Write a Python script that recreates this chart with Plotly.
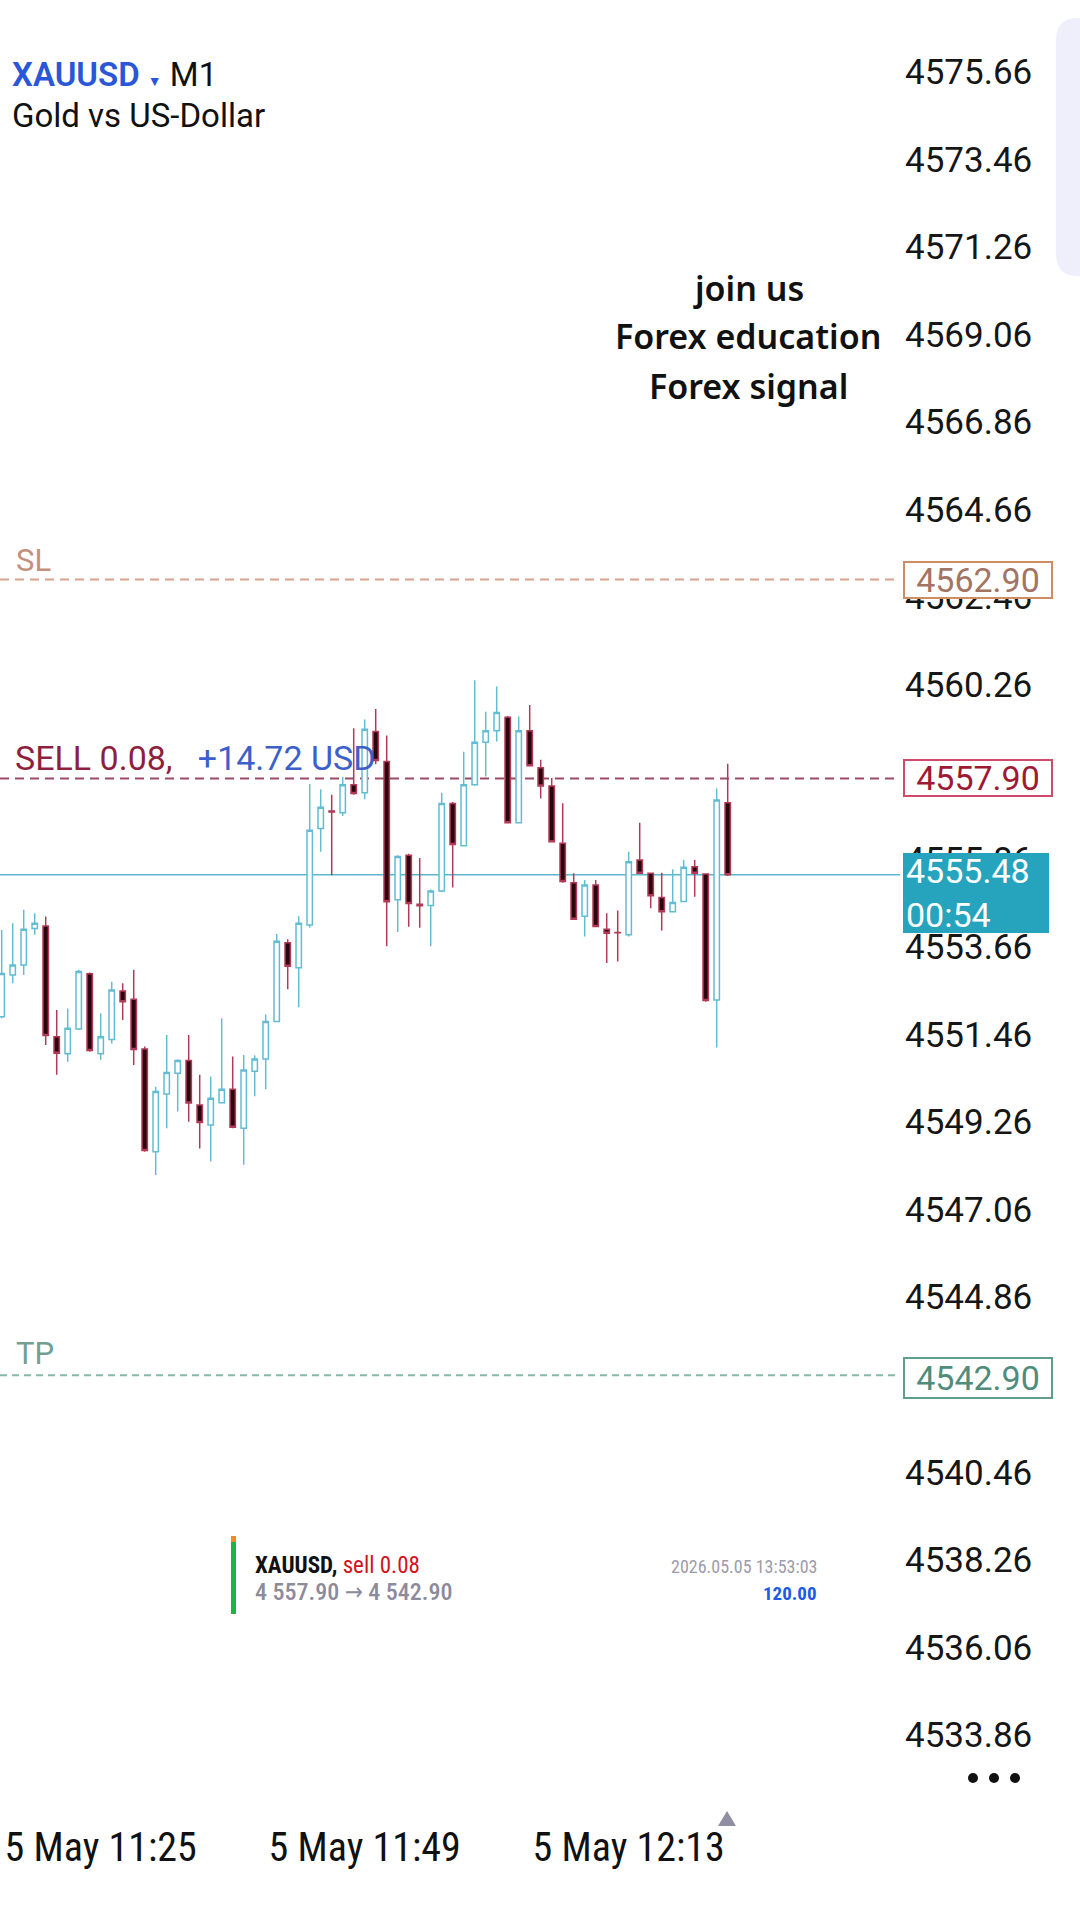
import plotly.graph_objects as go
import pandas as pd

# ---------------- data ----------------
SYMBOL = "XAUUSD"
TIMEFRAME = "M1"
DESCRIPTION = "Gold vs US-Dollar"
START_TIME = "2026-05-05 11:16"

opens = [4551.91, 4552.96, 4553.21, 4554.13, 4554.19, 4551.41, 4550.98, 4551.60, 4552.99, 4550.98,
         4551.34, 4552.56, 4552.35, 4551.10, 4548.52, 4549.97, 4550.49, 4550.81, 4549.69, 4549.19,
         4549.75, 4550.09, 4549.11, 4550.54, 4550.85, 4551.79, 4553.77, 4553.14, 4554.22, 4556.64,
         4557.08, 4557.04, 4557.74, 4557.54, 4559.08, 4558.33, 4554.85, 4555.97, 4554.74, 4554.71,
         4555.07, 4557.27, 4556.21, 4557.74, 4558.81, 4559.10, 4559.44, 4556.79, 4559.10, 4558.17,
         4557.71, 4556.27, 4555.28, 4554.44, 4555.22, 4554.11, 4554.03, 4553.97, 4555.85, 4555.52,
         4554.91, 4554.55, 4554.81, 4555.68, 4555.50, 4552.33, 4557.29]
highs = [4554.09, 4554.26, 4554.60, 4554.51, 4554.43, 4552.08, 4552.12, 4553.09, 4553.02, 4552.00,
         4552.79, 4552.75, 4553.09, 4551.16, 4550.15, 4551.45, 4550.84, 4551.45, 4550.45, 4550.41,
         4551.87, 4550.91, 4550.95, 4550.94, 4551.97, 4553.99, 4553.86, 4554.44, 4557.76, 4557.63,
         4557.49, 4557.94, 4559.16, 4559.38, 4559.65, 4558.98, 4555.97, 4556.01, 4555.90, 4555.11,
         4557.54, 4557.31, 4558.57, 4560.37, 4559.58, 4560.21, 4559.47, 4559.46, 4559.75, 4558.37,
         4557.91, 4557.28, 4555.52, 4555.35, 4555.35, 4554.51, 4554.58, 4556.06, 4556.79, 4555.53,
         4555.53, 4555.62, 4555.85, 4555.85, 4555.52, 4557.65, 4558.27]
lows = [4551.87, 4552.75, 4552.96, 4553.97, 4551.20, 4550.45, 4550.78, 4551.58, 4551.03, 4550.83,
        4551.24, 4551.83, 4550.70, 4548.52, 4547.93, 4549.11, 4549.53, 4549.27, 4548.60, 4548.27,
        4549.74, 4549.11, 4548.19, 4549.91, 4550.09, 4551.77, 4552.60, 4552.15, 4554.15, 4556.06,
        4555.47, 4556.96, 4557.49, 4557.38, 4558.26, 4553.68, 4554.04, 4554.17, 4554.15, 4553.68,
        4555.04, 4555.16, 4556.19, 4557.72, 4557.95, 4558.83, 4556.77, 4556.77, 4558.20, 4557.40,
        4556.29, 4555.28, 4554.34, 4553.93, 4554.16, 4553.26, 4553.30, 4553.93, 4555.50, 4554.64,
        4554.08, 4554.54, 4554.79, 4554.93, 4552.29, 4551.14, 4555.45]
closes = [4553.00, 4553.21, 4554.11, 4554.26, 4551.44, 4550.99, 4551.62, 4553.05, 4551.06, 4551.41,
          4552.58, 4552.29, 4551.09, 4548.55, 4550.03, 4550.51, 4550.81, 4549.74, 4549.25, 4549.86,
          4550.09, 4549.13, 4550.57, 4550.85, 4551.79, 4553.81, 4553.18, 4554.26, 4556.60, 4557.18,
          4557.06, 4557.74, 4557.52, 4559.14, 4558.35, 4554.80, 4555.94, 4554.76, 4554.70, 4555.07,
          4557.27, 4556.24, 4557.74, 4558.81, 4559.10, 4559.56, 4556.79, 4559.10, 4558.22, 4557.71,
          4556.31, 4555.31, 4554.36, 4555.22, 4554.18, 4554.01, 4554.02, 4555.81, 4555.52, 4554.95,
          4554.55, 4554.78, 4555.67, 4555.52, 4552.32, 4557.36, 4555.48]

times = pd.date_range(START_TIME, periods=len(opens), freq="1min")

price_ticks = [4575.66, 4573.46, 4571.26, 4569.06, 4566.86, 4564.66, 4562.46, 4560.26, 4558.06,
               4555.86, 4553.66, 4551.46, 4549.26, 4547.06, 4544.86, 4542.66, 4540.46, 4538.26,
               4536.06, 4533.86]
time_tick_idx = [9, 33, 57]
time_tick_labels = ["5 May 11:25", "5 May 11:49", "5 May 12:13"]

SL_PRICE = 4562.90
ENTRY_PRICE = 4557.90
TP_PRICE = 4542.90
CURRENT_PRICE = 4555.48
COUNTDOWN = "00:54"
POSITION_TEXT = "SELL 0.08,"
PROFIT_TEXT = "+14.72 USD"
promo_lines = ["join us", "Forex education", "Forex signal"]

NOTIF_SYMBOL = "XAUUSD,"
NOTIF_ACTION = "sell 0.08"
NOTIF_PRICES = "4 557.90 \u2192 4 542.90"
NOTIF_TIME = "2026.05.05 13:53:03"
NOTIF_VALUE = "120.00"

# ---------------- geometry ----------------
W, H = 1080, 1920
ML, MR, MT, MB = 0, 180, 0, 100
PW, PH = W - ML - MR, H - MT - MB
PX_PER_UNIT = 39.78
REF_PRICE, REF_PX = 4575.66, 72
Y_TOP = REF_PRICE + REF_PX / PX_PER_UNIT
Y_BOT = REF_PRICE - (PH - REF_PX) / PX_PER_UNIT
X0_PX, X_STEP = 1.7, 11.0
t0 = times[0]
X_LEFT = t0 + pd.Timedelta(minutes=(0 - X0_PX) / X_STEP)
X_RIGHT = t0 + pd.Timedelta(minutes=(PW - X0_PX) / X_STEP)


def px(xp):
    return xp / PW


def py(yp):
    return 1 - yp / PH


FONT = "Roboto, 'Noto Sans', sans-serif"
COND = "'Roboto Condensed', 'Liberation Sans Narrow', 'DejaVu Sans Condensed', Roboto, sans-serif"

fig = go.Figure()
fig.add_trace(go.Candlestick(
    x=times, open=opens, high=highs, low=lows, close=closes,
    increasing=dict(line=dict(color="#62bcd2", width=1.5), fillcolor="#ffffff"),
    decreasing=dict(line=dict(color="#b03a58", width=1.5), fillcolor="#2a070d"),
    whiskerwidth=0, showlegend=False, hoverinfo="skip",
))

shapes = []
# horizontal levels
shapes.append(dict(type="line", xref="paper", yref="y", x0=0, x1=0.995, y0=SL_PRICE, y1=SL_PRICE,
                   line=dict(color="#d9a18e", width=2, dash="9px,6px"), layer="below"))
shapes.append(dict(type="line", xref="paper", yref="y", x0=0, x1=0.995, y0=ENTRY_PRICE, y1=ENTRY_PRICE,
                   line=dict(color="#9c4a66", width=2, dash="9px,6px"), layer="below"))
shapes.append(dict(type="line", xref="paper", yref="y", x0=0, x1=1.0, y0=CURRENT_PRICE, y1=CURRENT_PRICE,
                   line=dict(color="#5ab9cd", width=1.5), layer="below"))
shapes.append(dict(type="line", xref="paper", yref="y", x0=0, x1=0.995, y0=TP_PRICE, y1=TP_PRICE,
                   line=dict(color="#86b9a9", width=2, dash="7px,5px"), layer="below"))

# lavender side panel (rounded)
x0p, x1p, y0p, y1p, r = 1056, 1100, 18, 276, 22
path = (f"M {px(x0p + r)},{py(y0p)} L {px(x1p)},{py(y0p)} L {px(x1p)},{py(y1p)} "
        f"L {px(x0p + r)},{py(y1p)} Q {px(x0p)},{py(y1p)} {px(x0p)},{py(y1p - r)} "
        f"L {px(x0p)},{py(y0p + r)} Q {px(x0p)},{py(y0p)} {px(x0p + r)},{py(y0p)} Z")
shapes.append(dict(type="path", xref="paper", yref="paper", path=path,
                   fillcolor="#efeffb", line=dict(width=0), layer="above"))

# three dots menu
for cx in (973, 994, 1015):
    shapes.append(dict(type="circle", xref="paper", yref="paper",
                       x0=px(cx - 5), x1=px(cx + 5), y0=py(1778 + 5), y1=py(1778 - 5),
                       fillcolor="#111111", line=dict(width=0)))

# small triangle marker above time axis
shapes.append(dict(type="path", xref="paper", yref="paper",
                   path=f"M {px(718)},{py(1826)} L {px(736)},{py(1826)} L {px(727)},{py(1811)} Z",
                   fillcolor="#8e8fa3", line=dict(width=0)))

# notification bar
shapes.append(dict(type="rect", xref="paper", yref="paper", x0=px(231), x1=px(236),
                   y0=py(1614), y1=py(1536), fillcolor="#1db541", line=dict(width=0)))
shapes.append(dict(type="rect", xref="paper", yref="paper", x0=px(231), x1=px(236),
                   y0=py(1542), y1=py(1536), fillcolor="#f28a26", line=dict(width=0)))

ann = []
# title
ann.append(dict(x=px(10), y=py(75), xref="paper", yref="paper", xanchor="left", yanchor="middle",
                showarrow=False, font=dict(family=FONT, size=33, color="#111111"),
                text=(f"<span style='color:#2a56d8;font-weight:600'>{SYMBOL}</span> "
                      f"<span style='color:#2a56d8;font-size:14px'>\u25bc</span> {TIMEFRAME}")))
ann.append(dict(x=px(10), y=py(115), xref="paper", yref="paper", xanchor="left", yanchor="middle",
                showarrow=False, font=dict(family=FONT, size=33, color="#111111"), text=DESCRIPTION))

# promo text
for yy, t in zip((288, 336, 386), promo_lines):
    ann.append(dict(x=px(748), y=py(yy), xref="paper", yref="paper", xanchor="center", yanchor="middle",
                    showarrow=False, font=dict(family="'Noto Sans', 'Open Sans', sans-serif", size=34,
                                               color="#111111", weight=600), text=t))

# level labels
ann.append(dict(x=px(14), y=py(560), xref="paper", yref="paper", xanchor="left", yanchor="middle",
                showarrow=False, font=dict(family=FONT, size=31, color="#c4907e"), text="SL"))
ann.append(dict(x=px(13), y=py(758), xref="paper", yref="paper", xanchor="left", yanchor="middle",
                showarrow=False, font=dict(family=FONT, size=34, color="#8e1f3e"),
                text=f"{POSITION_TEXT}&nbsp;&nbsp;&nbsp;<span style='color:#3d5fc9'>{PROFIT_TEXT}</span>"))
ann.append(dict(x=px(14), y=py(1353), xref="paper", yref="paper", xanchor="left", yanchor="middle",
                showarrow=False, font=dict(family=FONT, size=31, color="#729f91"), text="TP"))

# price boxes
def price_box(price, border, color, height=30, yshift=0):
    return dict(x=px(903), y=price, xref="paper", yref="y", xanchor="left", yanchor="middle",
                showarrow=False, text=f"{price:.2f}", font=dict(family=FONT, size=34, color=color),
                bgcolor="#ffffff", bordercolor=border, borderwidth=2, borderpad=2,
                width=142, height=height, align="center", yshift=yshift)


ann.append(price_box(SL_PRICE, "#cf8d63", "#a27563"))
ann.append(price_box(ENTRY_PRICE, "#d04a6a", "#9e1a32"))
ann.append(price_box(TP_PRICE, "#5d9f89", "#4f8c7c", height=34, yshift=-3))
ann.append(dict(x=px(903), y=py(853), xref="paper", yref="paper", xanchor="left", yanchor="top",
                showarrow=False, text=f"{CURRENT_PRICE:.2f}<br>{COUNTDOWN}",
                font=dict(family=FONT, size=34, color="#ffffff"), bgcolor="#26a4be",
                borderwidth=0, borderpad=3, width=140, height=74, align="left"))

# notification texts
ann.append(dict(x=px(253), y=py(1565), xref="paper", yref="paper", xanchor="left", yanchor="middle",
                showarrow=False, font=dict(family=COND, size=23, color="#111111"),
                text=f"<b>{NOTIF_SYMBOL}</b> <span style='color:#d3121e'>{NOTIF_ACTION}</span>"))
ann.append(dict(x=px(253), y=py(1592), xref="paper", yref="paper", xanchor="left", yanchor="middle",
                showarrow=False, font=dict(family=COND, size=24, color="#8b8b9b", weight=500),
                text=NOTIF_PRICES))
ann.append(dict(x=px(819), y=py(1566), xref="paper", yref="paper", xanchor="right", yanchor="middle",
                showarrow=False, font=dict(family=COND, size=18, color="#9c9caa"), text=NOTIF_TIME))
ann.append(dict(x=px(819), y=py(1593), xref="paper", yref="paper", xanchor="right", yanchor="middle",
                showarrow=False, font=dict(family=COND, size=19, color="#1a5be6"),
                text=f"<b>{NOTIF_VALUE}</b>"))

fig.update_layout(
    width=W, height=H, margin=dict(l=ML, r=MR, t=MT, b=MB),
    paper_bgcolor="#ffffff", plot_bgcolor="#ffffff",
    showlegend=False, hovermode=False,
    shapes=shapes, annotations=ann,
    xaxis=dict(type="date", range=[X_LEFT, X_RIGHT], rangeslider=dict(visible=False),
               showgrid=False, zeroline=False, showline=False, ticks="",
               tickvals=[times[i] for i in time_tick_idx], ticktext=time_tick_labels,
               tickfont=dict(family=COND, size=40, color="#111111"), fixedrange=True),
    yaxis=dict(range=[Y_BOT, Y_TOP], side="right", showgrid=False, zeroline=False, showline=False,
               ticks="", tickvals=price_ticks, ticktext=[f"{v:.2f}" for v in price_ticks],
               ticklabelstandoff=4,
               tickfont=dict(family=FONT, size=35, color="#161616"), fixedrange=True),
)

fig.write_html("out.html")
